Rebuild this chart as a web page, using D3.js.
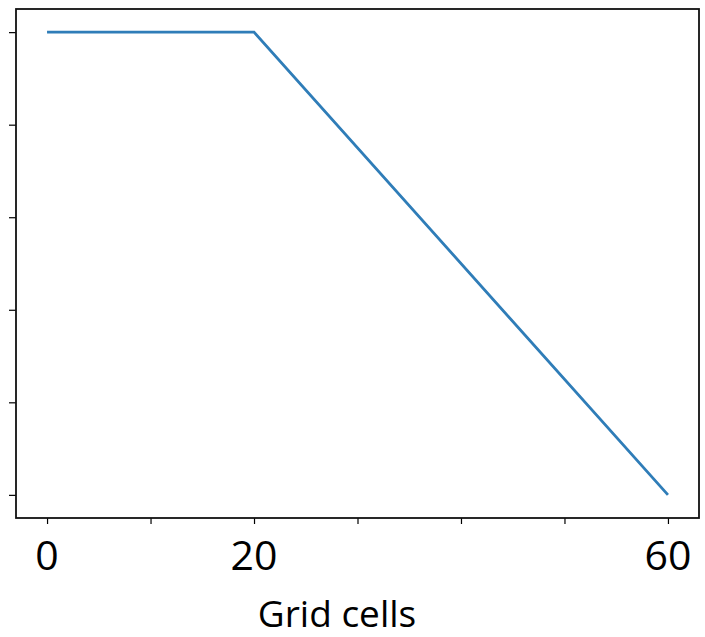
<!DOCTYPE html>
<html>
<head>
<meta charset="utf-8">
<script src="https://cdn.jsdelivr.net/npm/d3@7"></script>
<style>
  html, body { margin: 0; padding: 0; background: #fff; }
</style>
</head>
<body>
<div id="chart"></div>
<script>
// Data
const xValues = [0, 20, 60];
const yValues = [5, 5, 0];
const xTicks = [0, 10, 20, 30, 40, 50, 60];
const xTickLabels = { 0: "0", 20: "20", 60: "60" };
const yTicks = [0, 1, 2, 3, 4, 5];
const xLabel = "Grid cells";

const width = 705;
const height = 637;
const plotLeft = 16, plotRight = 699, plotTop = 9, plotBottom = 518;

const x = d3.scaleLinear().domain([-3, 63]).range([plotLeft, plotRight]);
const y = d3.scaleLinear().domain([-0.25, 5.25]).range([plotBottom, plotTop]);

const svg = d3.select("#chart")
  .append("svg")
  .attr("width", width)
  .attr("height", height)
  .style("display", "block")
  .style("font-family", "'Open Sans', sans-serif");

// axes (ticks only, labels drawn separately)
svg.append("g")
  .attr("transform", `translate(0,${plotBottom})`)
  .call(d3.axisBottom(x).tickValues(xTicks).tickSize(6).tickFormat(""))
  .call((g) => g.select(".domain").remove())
  .call((g) => g.selectAll("line").attr("stroke", "#000").attr("stroke-width", 1.2));

svg.append("g")
  .attr("transform", `translate(${plotLeft},0)`)
  .call(d3.axisLeft(y).tickValues(yTicks).tickSize(7).tickFormat(""))
  .call((g) => g.select(".domain").remove())
  .call((g) => g.selectAll("line").attr("stroke", "#000").attr("stroke-width", 1.2));

// frame
svg.append("rect")
  .attr("x", plotLeft)
  .attr("y", plotTop)
  .attr("width", plotRight - plotLeft)
  .attr("height", plotBottom - plotTop)
  .attr("fill", "none")
  .attr("stroke", "#111")
  .attr("stroke-width", 1.8);

// line
const line = d3.line()
  .x((d, i) => x(xValues[i]))
  .y((d) => y(d));

svg.append("path")
  .datum(yValues)
  .attr("fill", "none")
  .attr("stroke", "#2f7db8")
  .attr("stroke-width", 2.8)
  .attr("d", line);

// tick labels
svg.append("g")
  .selectAll("text")
  .data(xTicks.filter((t) => xTickLabels[t] !== undefined))
  .join("text")
  .attr("x", (d) => x(d))
  .attr("y", 570)
  .attr("text-anchor", "middle")
  .attr("font-size", 41)
  .attr("fill", "#000")
  .text((d) => xTickLabels[d]);

// axis title
svg.append("text")
  .attr("x", 337)
  .attr("y", 627)
  .attr("text-anchor", "middle")
  .attr("font-size", 37)
  .attr("fill", "#000")
  .text(xLabel);
</script>
</body>
</html>
